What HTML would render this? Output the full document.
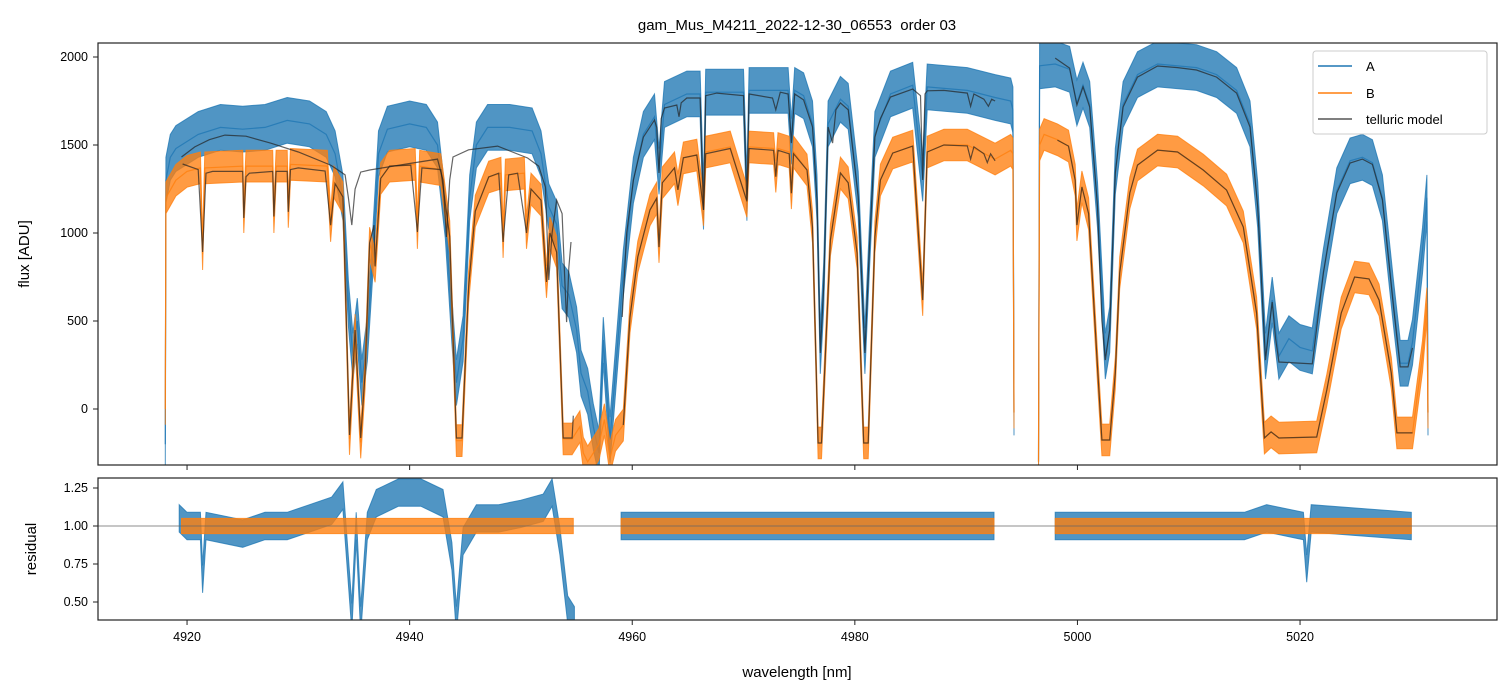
<!DOCTYPE html>
<html><head><meta charset="utf-8"><style>
body{margin:0;background:#fff}
svg{display:block;font-family:"Liberation Sans","DejaVu Sans",sans-serif}
</style></head><body>
<svg id="chart" width="1510" height="696" viewBox="0 0 1510 696" xmlns="http://www.w3.org/2000/svg">
<defs>
<clipPath id="clipTop"><rect x="98" y="43" width="1399" height="422"/></clipPath>
<clipPath id="clipBot"><rect x="98" y="478" width="1399" height="142"/></clipPath>
</defs>
<text x="797" y="30" font-size="15" text-anchor="middle" style="white-space:pre">gam_Mus_M4211_2022-12-30_06553  order 03</text>
<g id="topPanel"></g>
<g id="botPanel"></g>
<rect x="98" y="43" width="1399" height="422" fill="none" stroke="#222" stroke-width="1.2"/>
<rect x="98" y="478" width="1399" height="142" fill="none" stroke="#222" stroke-width="1.2"/>
<g id="ticks"></g>
<text transform="translate(29,254) rotate(-90)" font-size="15" text-anchor="middle">flux [ADU]</text>
<text transform="translate(36,549) rotate(-90)" font-size="15" text-anchor="middle">residual</text>
<text x="797" y="677" font-size="15" text-anchor="middle">wavelength [nm]</text>
<g>
<rect x="1313" y="51" width="174" height="83" rx="3" fill="#fff" fill-opacity="0.85" stroke="#ccc"/>
<line x1="1318" y1="66" x2="1352" y2="66" stroke="#1f77b4" stroke-width="1.5"/>
<text x="1366" y="71" font-size="13">A</text>
<line x1="1318" y1="93" x2="1352" y2="93" stroke="#ff7f0e" stroke-width="1.5"/>
<text x="1366" y="98" font-size="13">B</text>
<line x1="1318" y1="119" x2="1352" y2="119" stroke="#555" stroke-width="1.5"/>
<text x="1366" y="124" font-size="13">telluric model</text>
</g>
</svg>
<script>
const xTicks=[4920,4940,4960,4980,5000,5020];
const yTicksTop=[0,500,1000,1500,2000];
const yTicksBot=[0.50,0.75,1.00,1.25];
const seriesA=[[4918.05,-200],[4918.1,1300],[4918.5,1430],[4919,1480],[4921,1560],[4923,1600],[4925,1590],[4927,1600],[4929,1640],[4931,1620],[4932.5,1560],[4933.3,1450],[4934,1200],[4934.5,600],[4934.9,300],[4935.3,500],[4935.7,150],[4936.2,400],[4936.7,900],[4937.2,1450],[4938,1590],[4940,1620],[4941.5,1600],[4942.5,1500],[4943.2,1100],[4943.8,500],[4944.2,150],[4944.8,400],[4945.4,1200],[4946,1500],[4947,1600],[4949,1600],[4951,1580],[4951.8,1450],[4952.5,1150],[4953.2,1050],[4953.7,700],[4954.3,650],[4955,450],[4955.4,204],[4956,100],[4956.5,-100],[4957,-250],[4957.4,392],[4958,-176],[4958.6,300],[4959.2,773],[4960.1,1300],[4961,1560],[4962,1660],[4962.4,1350],[4962.9,1730],[4964.9,1790],[4966.1,1790],[4966.4,1150],[4966.6,1800],[4970,1800],[4970.3,1200],[4970.5,1810],[4974,1810],[4974.3,1520],[4974.6,1810],[4975.4,1780],[4976.2,1620],[4976.6,1200],[4976.9,330],[4977.2,700],[4977.6,1620],[4978.7,1760],[4979.4,1720],[4980.3,1220],[4980.9,330],[4981.3,900],[4981.8,1560],[4983.2,1790],[4985.2,1840],[4986.1,1310],[4986.5,1830],[4990.1,1810],[4992.6,1770],[4994,1750],[4994.2,1700],[4994.3,-20],null,[4996.5,-300],[4996.6,1950],[4998,1960],[4999.3,1930],[4999.95,1740],[5000.5,1840],[5001.1,1730],[5001.8,1160],[5002.5,300],[5002.9,450],[5003.4,1350],[5004.1,1730],[5005.4,1900],[5007.2,1960],[5010.7,1940],[5012.5,1900],[5014.3,1810],[5015.5,1620],[5016.2,1160],[5016.9,300],[5017.5,620],[5018.1,300],[5019,400],[5020,350],[5021.1,330],[5022.1,780],[5023.3,1240],[5024.5,1410],[5025.6,1430],[5026.5,1400],[5027.4,1200],[5028.4,600],[5029,260],[5029.7,260],[5030.1,380],[5031,900],[5031.4,1200],[5031.5,-20]];
const seriesB=[[4918.05,0],[4918.1,1200],[4919,1300],[4920,1350],[4921.2,1370],[4921.4,880],[4921.6,1370],[4925,1380],[4925.1,1090],[4925.3,1380],[4927.7,1380],[4927.8,1090],[4928,1380],[4929,1380],[4929.1,1120],[4929.3,1390],[4932.6,1380],[4932.9,1040],[4933.2,1290],[4934,1200],[4934.6,-170],[4935.1,449],[4935.6,-190],[4936,204],[4936.4,943],[4936.9,810],[4937.4,1310],[4938.2,1380],[4940.5,1390],[4940.7,1000],[4940.9,1380],[4942.8,1360],[4943.6,980],[4944.2,-180],[4944.7,-180],[4945.3,693],[4945.9,1124],[4947.1,1318],[4948.2,1340],[4948.4,949],[4948.6,1330],[4950.3,1340],[4950.5,1000],[4950.9,1250],[4951.8,1187],[4952.3,722],[4952.6,1000],[4953.2,892],[4953.8,-170],[4954.6,-170],[4955.3,-100],[4955.6,-250],[4956,-300],[4957,-200],[4957.5,-60],[4958,-280],[4958.5,-150],[4959.2,-91],[4959.8,523],[4960.5,864],[4961.6,1131],[4962.2,1198],[4962.4,920],[4962.7,1285],[4963.8,1370],[4964.1,1245],[4964.6,1427],[4965.8,1443],[4966.4,1131],[4966.6,1460],[4968.8,1489],[4970.3,1180],[4970.5,1489],[4972.7,1480],[4972.9,1320],[4973.1,1480],[4974.1,1460],[4974.3,1226],[4974.5,1460],[4975.7,1358],[4976.2,1034],[4976.7,-193],[4977,-193],[4977.8,960],[4978.7,1341],[4979.4,1285],[4980.2,886],[4980.8,-193],[4981.2,-193],[4981.8,977],[4982.3,1301],[4983.4,1454],[4985.2,1494],[4986.1,619],[4986.5,1460],[4988,1500],[4990.1,1500],[4992.6,1420],[4994,1470],[4994.2,1450],[4994.3,-20],null,[4996.5,-300],[4996.6,1500],[4997,1560],[4998.2,1530],[4999.2,1494],[4999.8,1300],[4999.95,1045],[5000.4,1262],[5001,1110],[5001.8,239],[5002.2,-176],[5002.9,-176],[5003.4,204],[5003.8,773],[5004.7,1227],[5005.4,1386],[5007.2,1471],[5009,1460],[5011.3,1358],[5013.4,1244],[5014.9,1034],[5016.1,545],[5016.8,-165],[5017.4,-130],[5018.1,-165],[5021.5,-159],[5022.4,108],[5023.7,545],[5024.9,750],[5026.2,739],[5027.1,619],[5028.2,204],[5028.7,-136],[5030.1,-136],[5031,300],[5031.4,600],[5031.5,-20]];
const modelA=[[4919.5,1432],[4920.7,1489],[4922,1530],[4923.4,1556],[4925.3,1550],[4927.5,1511],[4930,1460],[4932.9,1386],[4933.4,1365],[4934.2,1330],[4934.5,1200],[4934.8,1045],[4935.1,1250],[4935.6,1346],[4936.4,1358],[4940,1395],[4942.5,1420],[4943,1300],[4943.3,977],[4943.6,1300],[4943.9,1432],[4945.3,1473],[4947.9,1494],[4950.6,1426],[4951.6,1380],[4952.2,1261],[4952.5,733],[4952.8,1000],[4953.2,1187],[4953.7,1110],[4953.9,800],[4954.1,494],[4954.3,800],[4954.5,949],null,[4959.1,523],[4959.5,1000],[4960.1,1301],[4961,1545],[4962,1642],[4962.2,1600],[4962.4,1341],[4962.6,1650],[4962.9,1710],[4964,1727],[4964.2,1660],[4964.4,1740],[4964.9,1767],[4966.1,1767],[4966.4,1131],[4966.6,1780],[4967.6,1795],[4970,1780],[4970.3,1188],[4970.5,1790],[4972.6,1767],[4972.9,1700],[4973.3,1800],[4974,1790],[4974.3,1511],[4974.6,1790],[4975.4,1756],[4976.2,1602],[4976.6,1188],[4976.9,318],[4977.2,700],[4977.6,1602],[4978,1511],[4978.3,1700],[4978.7,1739],[4979.4,1700],[4980.3,1205],[4980.9,318],[4981.3,900],[4981.8,1545],[4982.3,1650],[4983.2,1773],[4985.2,1818],[4985.9,1780],[4986.1,1301],[4986.3,1790],[4986.5,1808],[4988,1810],[4990.1,1795],[4990.4,1720],[4990.7,1790],[4991.6,1760],[4992,1720],[4992.3,1760],[4992.6,1750],null,[4998,1994],[4999.3,1937],[4999.95,1727],[5000.5,1830],[5001.1,1716],[5001.8,1148],[5002.2,500],[5002.5,278],[5002.9,450],[5003.4,1341],[5004.1,1716],[5005.4,1886],[5007.2,1949],[5009,1940],[5010.7,1926],[5012.5,1886],[5014.3,1795],[5015.5,1602],[5016.2,1148],[5016.9,278],[5017.2,450],[5017.5,608],[5017.8,400],[5018.1,267],[5021.1,256],[5022.1,773],[5023.3,1227],[5024.5,1398],[5025.6,1420],[5026.5,1390],[5027.4,1188],[5028.4,580],[5029,239],[5029.7,239],[5030.1,347]];
const modelB=[[4919.6,1392],[4921,1360],[4921.4,892],[4921.7,1340],[4922.3,1350],[4925,1350],[4925.1,1085],[4925.3,1320],[4925.6,1340],[4927.7,1350],[4927.8,1094],[4928,1350],[4929,1350],[4929.1,1120],[4929.3,1360],[4930,1370],[4932.4,1352],[4932.9,1045],[4933.3,1280],[4934,1205],[4934.6,-148],[4935.1,449],[4935.6,-165],[4936,204],[4936.4,943],[4936.8,1045],[4936.9,810],[4937.4,1310],[4938.2,1380],[4940.1,1386],[4940.7,1006],[4941.1,1370],[4942.8,1360],[4943.6,980],[4944.2,-165],[4944.7,-165],[4945.3,693],[4945.9,1124],[4947.1,1318],[4948,1340],[4948.4,949],[4948.9,1330],[4949.7,1340],[4950.5,1000],[4950.9,1250],[4951.8,1187],[4952.3,722],[4952.6,1000],[4953.2,892],[4953.8,-165],[4954.6,-165],[4954.7,-38],null,[4959.2,-91],[4959.8,523],[4960.5,864],[4961.6,1131],[4962.2,1198],[4962.4,920],[4962.7,1285],[4963.8,1370],[4964.1,1245],[4964.6,1427],[4965.8,1443],[4966.4,1131],[4966.6,1450],[4968.8,1480],[4970.3,1180],[4970.5,1480],[4972.7,1470],[4972.9,1320],[4973.1,1470],[4974.1,1450],[4974.3,1226],[4974.5,1450],[4975.7,1358],[4976.2,1034],[4976.7,-193],[4977,-193],[4977.8,960],[4978.7,1341],[4979.4,1285],[4980.2,886],[4980.8,-193],[4981.2,-193],[4981.8,977],[4982.3,1301],[4983.4,1454],[4985.2,1494],[4986.1,619],[4986.5,1460],[4988,1500],[4990.1,1495],[4990.4,1420],[4990.7,1490],[4991.6,1450],[4991.9,1400],[4992.2,1450],[4992.6,1410],null,[4998.2,1528],[4999.2,1494],[4999.8,1300],[4999.95,1045],[5000.4,1262],[5001,1110],[5001.8,239],[5002.2,-176],[5002.9,-176],[5003.4,204],[5003.8,773],[5004.7,1227],[5005.4,1386],[5007.2,1471],[5009,1460],[5011.3,1358],[5013.4,1244],[5014.9,1034],[5016.1,545],[5016.8,-165],[5017.4,-130],[5018.1,-165],[5021.5,-159],[5022.4,108],[5023.7,545],[5024.9,750],[5026.2,739],[5027.1,619],[5028.2,204],[5028.7,-136],[5030.1,-136]];
const residA=[[4919.3,1.05],[4920,1.0],[4921.2,1.0],[4921.4,0.65],[4921.7,1.0],[4925,0.95],[4927,1.0],[4929,1.0],[4931,1.05],[4933,1.1],[4934,1.2],[4934.8,0.4],[4935.2,1.0],[4935.6,0.38],[4936.2,1.0],[4937,1.15],[4939,1.22],[4941,1.22],[4943,1.15],[4943.8,0.8],[4944.2,0.38],[4944.8,0.9],[4946,1.05],[4948,1.05],[4950,1.08],[4952,1.12],[4952.8,1.22],[4953.5,0.9],[4954.2,0.45],[4954.8,0.38],null,[4959,1.0],[4992.5,1.0],null,[4998,1.0],[5015,1.0],[5017,1.05],[5020.3,1.0],[5020.6,0.72],[5021,1.05],[5030,1.0]];
const residB=[[4919.5,1.0],[4954.7,1.0],null,[4959,1.0],[4992.5,1.0],null,[4998,1.0],[5030,1.0]];

const NS='http://www.w3.org/2000/svg';
const X=w=>98+(w-4912)*11.13;
const YT=v=>409-v*0.176;
const YB=v=>526-(v-1)*152;
function segs(arr){const out=[];let cur=[];for(const p of arr){if(p===null){if(cur.length)out.push(cur);cur=[];}else cur.push(p);}if(cur.length)out.push(cur);return out;}
function pathFrom(arr,Y){let d='';for(const s of segs(arr)){s.forEach((p,i)=>{d+=(i?'L':'M')+X(p[0]).toFixed(1)+','+Y(p[1]).toFixed(1);});}return d;}
function bandFrom(arr,Y,sp){let d='';for(const s of segs(arr)){s.forEach((p,i)=>{d+=(i?'L':'M')+X(p[0]).toFixed(1)+','+Y(p[1]+sp).toFixed(1);});for(let i=s.length-1;i>=0;i--){const p=s[i];d+='L'+X(p[0]).toFixed(1)+','+Y(p[1]-sp).toFixed(1);}d+='Z';}return d;}
function mk(tag,attrs,parent){const e=document.createElementNS(NS,tag);for(const k in attrs)e.setAttribute(k,attrs[k]);parent.appendChild(e);return e;}
const topG=document.getElementById('topPanel'),botG=document.getElementById('botPanel'),tk=document.getElementById('ticks');
const gT=mk('g',{'clip-path':'url(#clipTop)'},topG);
let e;
e=mk('path',{d:bandFrom(seriesA,YT,130),fill:'#1f77b4','fill-opacity':0.78,stroke:'#1f77b4','stroke-opacity':0.78,'stroke-width':1},gT);


e=mk('path',{d:pathFrom(seriesA,YT),fill:'none',stroke:'#1f77b4','stroke-width':1.2,'stroke-opacity':0.8},gT);


e=mk('path',{d:bandFrom(seriesB,YT,90),fill:'#ff7f0e','fill-opacity':0.78,stroke:'#ff7f0e','stroke-opacity':0.78,'stroke-width':1},gT);


e=mk('path',{d:pathFrom(seriesB,YT),fill:'none',stroke:'#ff7f0e','stroke-width':1.2,'stroke-opacity':0.8},gT);


e=mk('path',{d:pathFrom(modelA,YT),fill:'none',stroke:'#222','stroke-width':1.2,'stroke-opacity':0.7},gT);


e=mk('path',{d:pathFrom(modelB,YT),fill:'none',stroke:'#222','stroke-width':1.2,'stroke-opacity':0.7},gT);


const gB=mk('g',{'clip-path':'url(#clipBot)'},botG);
e=mk('path',{d:bandFrom(residA,YB,0.09),fill:'#1f77b4','fill-opacity':0.78,stroke:'#1f77b4','stroke-opacity':0.78,'stroke-width':1},gB);


e=mk('path',{d:bandFrom(residB,YB,0.05),fill:'#ff7f0e','fill-opacity':0.8,stroke:'#ff7f0e','stroke-opacity':0.8,'stroke-width':1},gB);


e=mk('line',{x1:98,x2:1497,y1:YB(1),y2:YB(1),stroke:'#666','stroke-width':0.8},gB);


for(const t of xTicks){
  const x=X(t);
  mk('line',{x1:x,x2:x,y1:465,y2:470,stroke:'#222'},tk);
  mk('line',{x1:x,x2:x,y1:620,y2:625,stroke:'#222'},tk);
  e=mk('text',{x:x,y:641,'font-size':12.5,'text-anchor':'middle'},tk);
  e.textContent=t;
  
  
}
for(const t of yTicksTop){
  const y=YT(t);
  mk('line',{x1:93,x2:98,y1:y,y2:y,stroke:'#222'},tk);
  e=mk('text',{x:88,y:y+4,'font-size':12.5,'text-anchor':'end'},tk);
  e.textContent=t;
  
  
}
for(const t of yTicksBot){
  const y=YB(t);
  mk('line',{x1:93,x2:98,y1:y,y2:y,stroke:'#222'},tk);
  e=mk('text',{x:88,y:y+4,'font-size':12.5,'text-anchor':'end'},tk);
  e.textContent=t.toFixed(2);
  
  
}
</script>
</body></html>
